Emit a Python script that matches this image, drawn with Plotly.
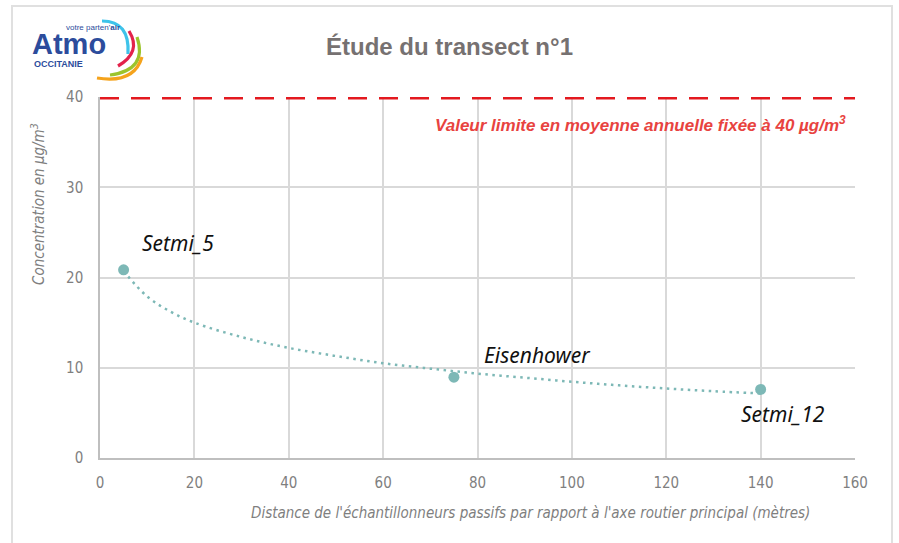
import plotly.graph_objects as go

# ---------------- data ----------------
distance_m = [5, 75, 140]
concentration = [20.85, 8.95, 7.6]
site_names = ["Setmi_5", "Eisenhower", "Setmi_12"]

# trend curve
trend_x = [5, 10, 15, 20, 30, 40, 50, 60, 70, 80, 90, 100, 110, 120, 130, 140]
trend_y = [20.7, 17.9, 16.2, 15.0, 13.4, 12.2, 11.3, 10.5, 9.9, 9.35, 8.9, 8.45, 8.05, 7.7, 7.4, 7.15]

limit_value = 40
x_ticks = [0, 20, 40, 60, 80, 100, 120, 140, 160]
y_ticks = [0, 10, 20, 30, 40]

# ---------------- layout helpers ----------------
W, H = 899, 543
L, R, T, B = 100, 855, 97, 458


def px(xp):
    return (xp - L) / (R - L)


def py(yp):
    return (B - yp) / (B - T)


narrow = "Liberation Sans Narrow, Arial Narrow, DejaVu Sans Condensed, Liberation Sans, sans-serif"
grey_txt = "#7f7f7f"
teal = "#7db8b6"

fig = go.Figure()

fig.add_trace(go.Scatter(
    x=trend_x, y=trend_y, mode="lines", line_shape="spline",
    line=dict(color=teal, width=2.5, dash="2.5px,4.5px"),
    hoverinfo="skip", showlegend=False,
))
fig.add_trace(go.Scatter(
    x=distance_m, y=concentration, mode="markers",
    marker=dict(color=teal, size=11),
    text=site_names, showlegend=False,
))

label_shifts = [(54, 27), (84, 22), (22, -25)]
label_font = dict(family="Noto Sans, Open Sans, sans-serif", size=21, color="#111111")
for xv, yv, name, (dx, dy) in zip(distance_m, concentration, site_names, label_shifts):
    fig.add_annotation(x=xv, y=yv, xref="x", yref="y", text=f"<i>{name}</i>",
                       showarrow=False, xshift=dx, yshift=dy, font=label_font,
                       xanchor="center", yanchor="middle")

shapes = []
# outer frame
shapes.append(dict(type="rect", xref="paper", yref="paper",
                   x0=px(12), x1=px(892), y0=py(560), y1=py(6),
                   line=dict(color="#e0e0e0", width=2), layer="below"))
# limit line
shapes.append(dict(type="line", xref="x", yref="y", x0=0, x1=160,
                   y0=limit_value, y1=limit_value,
                   line=dict(color="#e3191f", width=5, dash="19px,12px")))

# logo arcs
def qpath(p0, c, p1):
    return (f"M {px(p0[0])},{py(p0[1])} Q {px(c[0])},{py(c[1])} "
            f"{px(p1[0])},{py(p1[1])}")

arcs = [
    ((102, 21), (130, 21), (128, 54), "#3ec3ea"),
    ((129, 31), (142, 52), (118, 66), "#e3224b"),
    ((137, 37), (148, 70), (110, 75), "#9cc42c"),
    ((142, 57), (134, 84), (97, 78), "#f5a31c"),
]
for p0, c, p1, col in arcs:
    shapes.append(dict(type="path", xref="paper", yref="paper",
                       path=qpath(p0, c, p1), line=dict(color=col, width=3.2)))

annotations = [
    dict(text="<b>Étude du transect n°1</b>", x=px(449), y=py(46),
         font=dict(family="Liberation Sans, Arial, sans-serif", size=24, color="#767171")),
    dict(text="<b><i>Valeur limite en moyenne annuelle fixée à 40 µg/m<sup>3</sup></i></b>",
         x=px(847), y=py(124), xanchor="right",
         font=dict(family="Liberation Sans, Arial, sans-serif", size=17, color="#e8433f")),
    dict(text="<i>Concentration en µg/m<sup>3</sup></i>", x=px(38), y=py(204),
         textangle=-90, font=dict(family=narrow, size=15, color=grey_txt)),
    dict(text="<i>Distance de l'échantillonneurs passifs par rapport à l'axe routier principal (mètres)</i>",
         x=px(530), y=py(513), font=dict(family=narrow, size=15, color=grey_txt)),
    # logo text
    dict(text="<b>Atmo</b>", x=px(31), y=py(44), xanchor="left",
         font=dict(family="Liberation Sans, Arial, sans-serif", size=29, color="#2c4c9c")),
    dict(text="votre parten'<b>air</b>", x=px(65), y=py(27), xanchor="left",
         font=dict(family="Liberation Sans, Arial, sans-serif", size=8, color="#2c4c9c")),
    dict(text="<b>OCCITANIE</b>", x=px(33), y=py(64), xanchor="left",
         font=dict(family="Liberation Sans, Arial, sans-serif", size=9, color="#2c4c9c")),
]
for a in annotations:
    a.setdefault("xanchor", "center")
    a.setdefault("yanchor", "middle")
    fig.add_annotation(xref="paper", yref="paper", showarrow=False, borderpad=0, **a)

fig.update_layout(
    width=W, height=H,
    margin=dict(l=L, r=W - R, t=T, b=H - B, pad=0),
    paper_bgcolor="white", plot_bgcolor="white",
    shapes=shapes, showlegend=False,
    xaxis=dict(range=[0, 160], tickvals=x_ticks, showgrid=True, gridcolor="#d9d9d9", gridwidth=1.5,
               zeroline=False, showline=True, linecolor="#bfbfbf", linewidth=1.5,
               ticks="", ticklabelstandoff=10,
               tickfont=dict(family=narrow, size=15, color=grey_txt)),
    yaxis=dict(range=[0, 40], tickvals=y_ticks, showgrid=True, gridcolor="#d9d9d9", gridwidth=1.5,
               zeroline=False, showline=True, linecolor="#bfbfbf", linewidth=1.5,
               ticks="", ticklabelstandoff=12,
               tickfont=dict(family=narrow, size=15, color=grey_txt)),
)

fig.write_html("out.html", config={"displayModeBar": False},
               post_script="document.body.style.margin='0';")
